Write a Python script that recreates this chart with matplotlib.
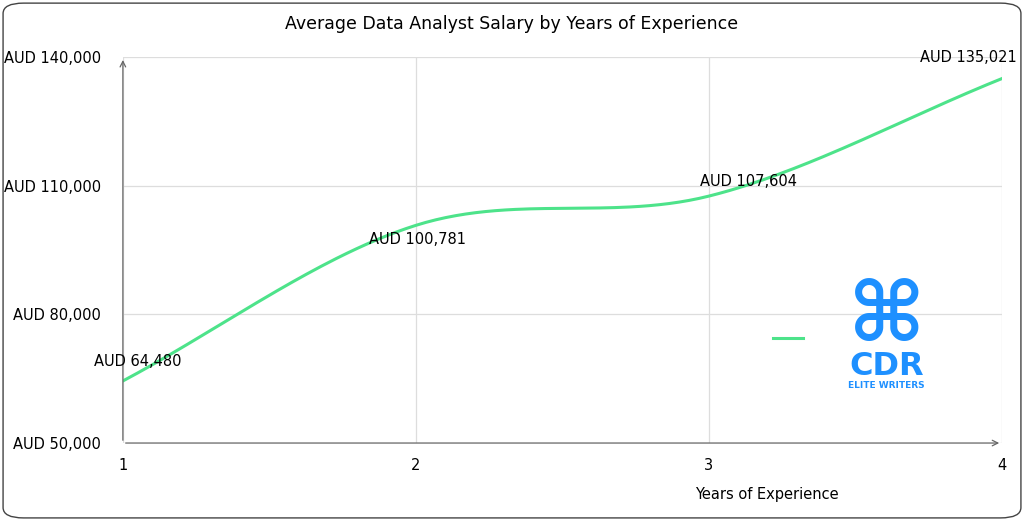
import numpy as np
import matplotlib
matplotlib.use("Agg")
import matplotlib.pyplot as plt
from matplotlib.patches import FancyBboxPatch

years = [1, 2, 3, 4]
salary = [64480, 100781, 107604, 135021]
labels = ["AUD 64,480", "AUD 100,781", "AUD 107,604", "AUD 135,021"]
yticks = [50000, 80000, 110000, 140000]
ytick_labels = ["AUD 50,000", "AUD 80,000", "AUD 110,000", "AUD 140,000"]

fig = plt.figure(figsize=(10.24, 5.2), dpi=100)
fig.patches.append(FancyBboxPatch((0.003, 0.004), 0.994, 0.99, boxstyle="round,pad=0,rounding_size=0.02",
                                  transform=fig.transFigure, fill=False, ec="#444444", lw=1))
ax = fig.add_axes([0.120, 0.148, 0.8585, 0.742])

# Catmull-Rom smoothing
x = np.array(years, float); y = np.array(salary, float)
px = np.concatenate([[2*x[0]-x[1]], x, [2*x[-1]-x[-2]]])
py = np.concatenate([[2*y[0]-y[1]], y, [2*y[-1]-y[-2]]])
xs, ys = [], []
t = np.linspace(0, 1, 60)
for i in range(1, len(px)-2):
    p0, p1, p2, p3 = [np.array([px[j], py[j]]) for j in (i-1, i, i+1, i+2)]
    for tt in t:
        pt = 0.5*((2*p1) + (-p0+p2)*tt + (2*p0-5*p1+4*p2-p3)*tt**2 + (-p0+3*p1-3*p2+p3)*tt**3)
        xs.append(pt[0]); ys.append(pt[1])
green = "#4de38a"
ax.plot(xs, ys, color=green, lw=2.2, zorder=3)

ax.set_xlim(1, 4); ax.set_ylim(50000, 140000)
ax.set_xticks(years); ax.set_yticks(yticks)
ax.set_yticklabels(ytick_labels)
ax.grid(True, color="#dddddd", lw=0.9)
for s in ax.spines.values(): s.set_visible(False)
ax.tick_params(length=0, labelsize=10.5, pad=11)
ax.tick_params(axis="y", pad=16)
ax.annotate("", xy=(1, 140000), xytext=(1, 50000), arrowprops=dict(arrowstyle="->", color="#666666", lw=0.9), annotation_clip=False)
ax.annotate("", xy=(4, 50000), xytext=(1, 50000), arrowprops=dict(arrowstyle="->", color="#666666", lw=0.9), annotation_clip=False)

pos = [(0.9, 69000, "left"), (1.84, 97500, "left"), (2.97, 111000, "left"), (4.05, 140000, "right")]
for (xv, yv, h), lb in zip(pos, labels):
    ax.text(xv, yv, lb, fontsize=10.5, ha=h, va="center")

ax.set_xlabel("Years of Experience", fontsize=10.5)
ax.xaxis.set_label_coords(0.733, -0.115)
fig.text(0.5, 0.954, "Average Data Analyst Salary by Years of Experience", ha="center", va="center", fontsize=12.5)

# legend line + logo
ax.plot([3.22, 3.32], [74500, 74500], color=green, lw=2.2, zorder=3)
blue = "#1e90ff"
fig.text(0.866, 0.39, "\u2318", fontsize=60, color=blue, ha="center", va="center", fontweight="bold")
fig.text(0.866, 0.266, "CDR", fontsize=23, color=blue, ha="center", va="bottom", fontweight="bold")
fig.text(0.866, 0.25, "ELITE WRITERS", fontsize=6.5, color=blue, ha="center", va="bottom", fontweight="bold")

fig.savefig("out.png", dpi=100)
